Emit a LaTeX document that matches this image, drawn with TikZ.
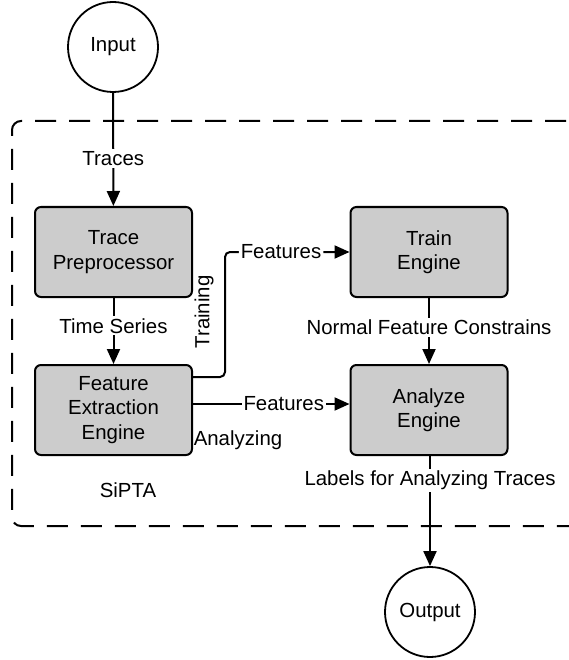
\documentclass[tikz,border=0pt]{standalone}
\usepackage{fontspec}
\setmainfont{Liberation Sans}
\usetikzlibrary{arrows.meta}
\begin{document}
\begin{tikzpicture}[x=1pt,y=-1pt,
  every node/.style={font=\fontsize{20.4}{24.5}\selectfont, inner sep=1pt},
  proc/.style={draw, line width=2pt, rounded corners=6pt, fill=black!20, minimum width=157pt, minimum height=90pt, align=center, inner sep=0pt},
  term/.style={draw, line width=1.8pt, circle, minimum size=90pt, inner sep=0pt},
  conn/.style={line width=2pt, -{Triangle[length=15pt,width=13pt]}},
  lab/.style={fill=white, inner sep=2pt}]
\useasboundingbox (0,0) rectangle (569,660);
% dashed container
\draw[line width=2pt, dash pattern=on 21pt off 13pt, rounded corners=9pt]
  (600,121) -- (12,121) -- (12,526) -- (600,526);
\node[term] (in) at (113,47) {Input};
\node[term] (out) at (430,612) {Output};
\node[proc] (tp) at (113.5,252) {Trace\\Preprocessor};
\node[proc] (fe) at (113.5,410) {Feature\\Extraction\\Engine};
\node[proc] (te) at (429,252) {Train\\Engine};
\node[proc] (ae) at (429,410) {Analyze\\Engine};
\coordinate (tv) at (225,377);
\draw[conn] (in) -- node[lab, pos=0.58] {Traces} (tp);
\draw[conn] (tp) -- node[lab, pos=0.42] {Time Series} (fe);
\draw[conn] (te) -- node[lab, pos=0.45] {Normal Feature Constrains} (ae);
\draw[conn] (ae.south -| out) -- node[lab, pos=0.22] {Labels for Analyzing Traces} (out);
\draw[conn, rounded corners=5pt] (fe.east |- tv) -- (tv) -- (tv |- te.west) -- node[lab, pos=0.45] {Features} (te.west);
\draw[conn] (fe.east |- 0,404) -- node[lab, pos=0.58] {Features} (ae.west |- 0,404);
\node[rotate=90] (tr) at (204,312) {Training};
\node (an) at (238,440) {Analyzing};
\node (si) at (128,490) {SiPTA};
\end{tikzpicture}
\end{document}
